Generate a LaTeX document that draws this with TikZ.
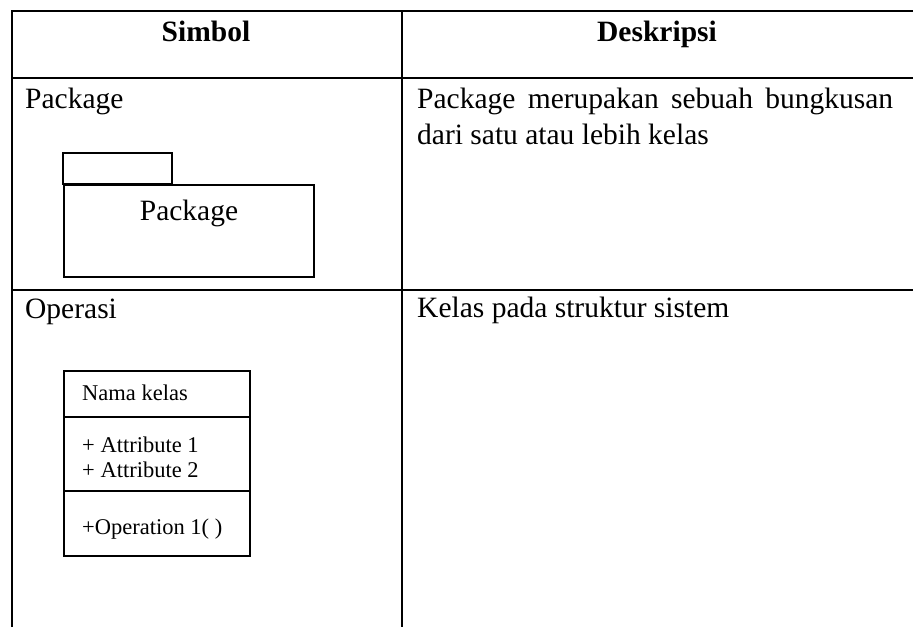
\documentclass[tikz,border=0pt]{standalone}
\usepackage{fontspec}
\setmainfont{Liberation Serif}
\begin{document}
\begin{tikzpicture}[x=1pt,y=-1pt,
  grid/.style={line width=2pt},
  umlbox/.style={draw,line width=1.5pt},
  txt/.style={inner sep=0pt,anchor=base west,font=\fontsize{29.5}{36}\selectfont},
  hdr/.style={inner sep=0pt,anchor=base,font=\fontsize{29.5}{36}\selectfont\bfseries},
  small/.style={inner sep=0pt,anchor=base west,font=\fontsize{22.5}{26}\selectfont}]
\useasboundingbox (0,0) rectangle (913,627);
% table grid
\draw[grid] (12,627) -- (12,11) -- (913,11);
\draw[grid] (402,11) -- (402,627);
\draw[grid] (12,78) -- (913,78);
\draw[grid] (12,290) -- (913,290);
% header
\node[hdr] (h1) at (206,41) {Simbol};
\node[hdr] (h2) at (657,41) {Deskripsi};
% row 1
\node[txt] (r1) at (25,108) {Package};
\node[txt,align=justify,text width=476pt] (d1) at (417,108)
  {Package merupakan sebuah bungkusan dari satu atau lebih kelas};
\draw[umlbox] (63,184) rectangle (172,153);
\node[umlbox,minimum width=250pt,minimum height=92pt,anchor=north west,inner sep=0pt] (pkg) at (63,184) {};
\node[txt,anchor=base] (pkgl) at (189,220) {Package};
% row 2
\node[txt] (r2) at (25,318) {Operasi};
\node[txt] (d2) at (417,317) {Kelas pada struktur sistem};
\node[umlbox,minimum width=186pt,minimum height=185pt,anchor=north west,inner sep=0pt] (cls) at (63,370) {};
\draw[umlbox] (cls.west |- 0,417) -- (cls.east |- 0,417);
\draw[umlbox] (cls.west |- 0,491) -- (cls.east |- 0,491);
\node[small] (cn) at (82,400) {Nama kelas};
\node[small] (a1) at (82,452) {+ Attribute 1};
\node[small] (a2) at (82,477) {+ Attribute 2};
\node[small] (op) at (82,534) {+Operation 1( )};
\end{tikzpicture}
\end{document}
